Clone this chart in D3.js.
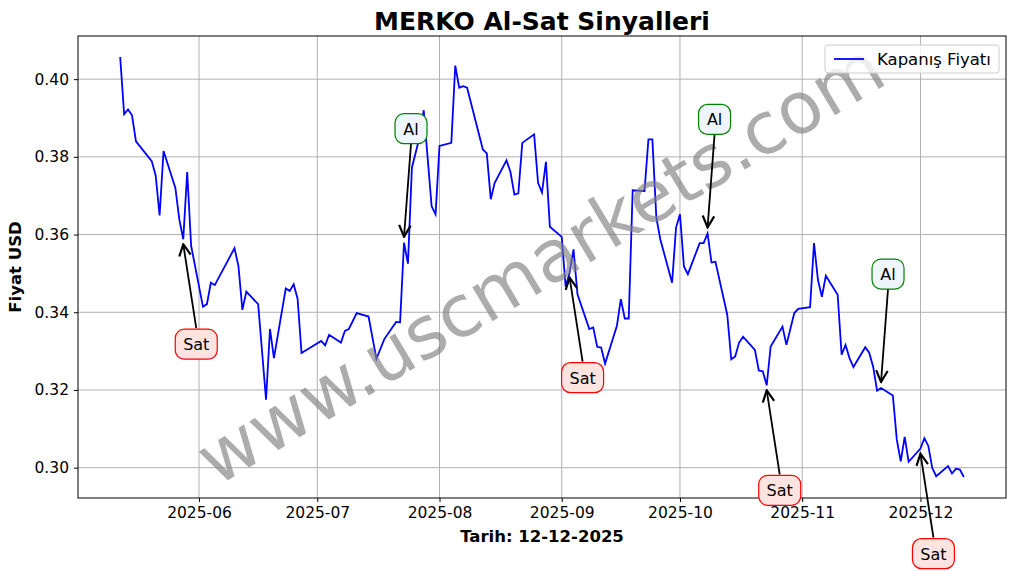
<!DOCTYPE html>
<html>
<head>
<meta charset="utf-8">
<script src="https://cdn.jsdelivr.net/npm/d3@7"></script>
<style>
  body { margin: 0; background: #fff; }
  text { font-family: "DejaVu Sans", sans-serif; }
</style>
</head>
<body>
<div id="chart"></div>
<script>
// closing prices
const dates = [
  "2025-05-12","2025-05-13","2025-05-14","2025-05-15","2025-05-16","2025-05-20","2025-05-21","2025-05-22","2025-05-23","2025-05-26",
  "2025-05-27","2025-05-28","2025-05-29","2025-05-30","2025-06-02","2025-06-03","2025-06-04","2025-06-05","2025-06-10","2025-06-11",
  "2025-06-12","2025-06-13","2025-06-16","2025-06-18","2025-06-19","2025-06-20","2025-06-23","2025-06-24","2025-06-25","2025-06-26",
  "2025-06-27","2025-07-02","2025-07-03","2025-07-04","2025-07-07","2025-07-08","2025-07-09","2025-07-11","2025-07-14","2025-07-16",
  "2025-07-18","2025-07-21","2025-07-22","2025-07-23","2025-07-24","2025-07-25","2025-07-27","2025-07-28","2025-07-30","2025-07-31",
  "2025-08-01","2025-08-04","2025-08-05","2025-08-06","2025-08-07","2025-08-08","2025-08-12","2025-08-13","2025-08-14","2025-08-15",
  "2025-08-18","2025-08-19","2025-08-20","2025-08-21","2025-08-22","2025-08-25","2025-08-26","2025-08-27","2025-08-28","2025-08-29",
  "2025-09-01","2025-09-02","2025-09-03","2025-09-04","2025-09-05","2025-09-08","2025-09-09","2025-09-10","2025-09-11","2025-09-12",
  "2025-09-15","2025-09-16","2025-09-17","2025-09-18","2025-09-19","2025-09-22","2025-09-23","2025-09-24","2025-09-25","2025-09-26",
  "2025-09-29","2025-09-30","2025-10-01","2025-10-02","2025-10-03","2025-10-06","2025-10-07","2025-10-08","2025-10-09","2025-10-10",
  "2025-10-13","2025-10-14","2025-10-15","2025-10-16","2025-10-17","2025-10-20","2025-10-21","2025-10-22","2025-10-23","2025-10-24",
  "2025-10-27","2025-10-28","2025-10-30","2025-10-31","2025-11-03","2025-11-04","2025-11-05","2025-11-06","2025-11-07","2025-11-10",
  "2025-11-11","2025-11-12","2025-11-13","2025-11-14","2025-11-17","2025-11-18","2025-11-19","2025-11-20","2025-11-21","2025-11-24",
  "2025-11-25","2025-11-26","2025-11-27","2025-11-28","2025-12-01","2025-12-02","2025-12-03","2025-12-04","2025-12-05","2025-12-08",
  "2025-12-09","2025-12-10","2025-12-11","2025-12-12"
];
const prices = [
  0.4057,0.3910,0.3922,0.3907,0.3840,0.3789,0.3752,0.3649,0.3815,0.3720,
  0.3639,0.3588,0.3761,0.3571,0.3414,0.3421,0.3476,0.3470,0.3565,0.3519,
  0.3406,0.3453,0.3421,0.3175,0.3357,0.3282,0.3461,0.3455,0.3472,0.3435,
  0.3295,0.3326,0.3315,0.3342,0.3322,0.3352,0.3357,0.3398,0.3389,0.3280,
  0.3331,0.3375,0.3374,0.3579,0.3525,0.3772,0.3853,0.3920,0.3673,0.3652,
  0.3828,0.3836,0.4035,0.3978,0.3982,0.3978,0.3819,0.3809,0.3691,0.3733,
  0.3791,0.3761,0.3703,0.3706,0.3836,0.3858,0.3733,0.3708,0.3787,0.3620,
  0.3594,0.3466,0.3502,0.3562,0.3446,0.3357,0.3361,0.3311,0.3309,0.3268,
  0.3365,0.3434,0.3384,0.3384,0.3714,0.3712,0.3845,0.3845,0.3644,0.3588,
  0.3476,0.3618,0.3652,0.3518,0.3498,0.3578,0.3578,0.3603,0.3528,0.3530,
  0.3393,0.3279,0.3286,0.3322,0.3337,0.3303,0.3250,0.3248,0.3212,0.3312,
  0.3363,0.3316,0.3398,0.3409,0.3413,0.3578,0.3483,0.3440,0.3494,0.3445,
  0.3291,0.3316,0.3282,0.3259,0.3310,0.3296,0.3260,0.3198,0.3205,0.3186,
  0.3072,0.3016,0.3079,0.3015,0.3049,0.3076,0.3056,0.2999,0.2978,0.3004,
  0.2985,0.2997,0.2995,0.2976
];
const signalDates = ["2025-05-28","2025-07-23","2025-09-03","2025-10-08","2025-10-23","2025-11-21","2025-12-01"];
const signalTypes = ["Sat","Al","Sat","Al","Sat","Al","Sat"];
const yTicks = [0.30, 0.32, 0.34, 0.36, 0.38, 0.40];
const xTicks = ["2025-06-01","2025-07-01","2025-08-01","2025-09-01","2025-10-01","2025-11-01","2025-12-01"];

const W = 1017, H = 571;
const m = { left: 78, right: 1006, top: 36, bottom: 498 };
const parse = d3.utcParse("%Y-%m-%d");
const data = dates.map((d, i) => ({ date: parse(d), value: prices[i] }));

const [x0, x1] = d3.extent(data, d => d.date);
const xPad = (x1 - x0) * 0.05;
const x = d3.scaleUtc().domain([new Date(+x0 - xPad), new Date(+x1 + xPad)]).range([m.left, m.right]);
const [y0, y1] = d3.extent(prices);
const yPad = (y1 - y0) * 0.05;
const y = d3.scaleLinear().domain([y0 - yPad, y1 + yPad]).range([m.bottom, m.top]);

const svg = d3.select("#chart").append("svg").attr("width", W).attr("height", H);

// grid
svg.append("g").selectAll("line").data(xTicks).enter().append("line")
  .attr("x1", d => x(parse(d))).attr("x2", d => x(parse(d)))
  .attr("y1", m.top).attr("y2", m.bottom)
  .attr("stroke", "#b0b0b0").attr("stroke-width", 1);
svg.append("g").selectAll("line").data(yTicks).enter().append("line")
  .attr("x1", m.left).attr("x2", m.right)
  .attr("y1", d => y(d)).attr("y2", d => y(d))
  .attr("stroke", "#b0b0b0").attr("stroke-width", 1);

// axes
const xAxis = svg.append("g").attr("transform", `translate(0,${m.bottom})`)
  .call(d3.axisBottom(x).tickValues(xTicks.map(parse)).tickFormat(d3.utcFormat("%Y-%m")).tickSize(4).tickPadding(5));
const yAxis = svg.append("g").attr("transform", `translate(${m.left},0)`)
  .call(d3.axisLeft(y).tickValues(yTicks).tickFormat(d3.format(".2f")).tickSize(4).tickPadding(5));
[xAxis, yAxis].forEach(a => {
  a.selectAll("text").attr("font-size", 15.5).attr("fill", "#000").style("font-family", "DejaVu Sans");
  a.selectAll(".domain").remove();
});
svg.append("rect").attr("x", m.left).attr("y", m.top)
  .attr("width", m.right - m.left).attr("height", m.bottom - m.top)
  .attr("fill", "none").attr("stroke", "#000").attr("stroke-width", 1);

// price line
svg.append("path").datum(data)
  .attr("d", d3.line().x(d => x(d.date)).y(d => y(d.value)))
  .attr("fill", "none").attr("stroke", "blue").attr("stroke-width", 1.8);

// watermark
svg.append("text").attr("x", 543).attr("y", 268)
  .attr("transform", "rotate(-31,543,268)")
  .attr("text-anchor", "middle").attr("dominant-baseline", "middle")
  .attr("font-size", 72).attr("fill", "#808080").attr("opacity", 0.65)
  .text("www.uscmarkets.com");

// signals
const defs = svg.append("defs");
defs.append("marker").attr("id", "arr").attr("viewBox", "0 0 10 10")
  .attr("refX", 9).attr("refY", 5).attr("markerWidth", 8).attr("markerHeight", 8)
  .attr("orient", "auto-start-reverse")
  .append("path").attr("d", "M1,1 L9,5 L1,9").attr("fill", "none").attr("stroke", "#000").attr("stroke-width", 1.5);

signalDates.forEach((sd, i) => {
  const dt = parse(sd);
  const pt = data.find(d => +d.date === +dt);
  const px = x(dt), py = y(pt.value);
  const buy = signalTypes[i] === "Al";
  const bx = px + (buy ? 7 : 13), by = py + (buy ? -114 : 105);
  const ey = py + (buy ? -6 : 5);
  const sy = by + (buy ? 15 : -16);
  svg.append("line").attr("x1", bx).attr("y1", sy)
    .attr("x2", px).attr("y2", ey)
    .attr("stroke", "#000").attr("stroke-width", 1.8).attr("marker-end", "url(#arr)");
  const w = buy ? 32 : 42, h = 30;
  svg.append("rect").attr("x", bx - w / 2).attr("y", by - h / 2)
    .attr("width", w).attr("height", h).attr("rx", 9)
    .attr("fill", buy ? "#eef5fd" : "#fde4e1")
    .attr("stroke", buy ? "green" : "red").attr("stroke-width", 1.2);
  svg.append("text").attr("x", bx).attr("y", by + 6)
    .attr("text-anchor", "middle").attr("font-size", 16).text(signalTypes[i]);
});

// legend
svg.append("rect").attr("x", 825).attr("y", 45).attr("width", 174).attr("height", 28)
  .attr("rx", 3).attr("fill", "#fff").attr("fill-opacity", 0.8).attr("stroke", "#ccc");
svg.append("line").attr("x1", 834).attr("x2", 864).attr("y1", 59).attr("y2", 59)
  .attr("stroke", "blue").attr("stroke-width", 1.8);
svg.append("text").attr("x", 877).attr("y", 65).attr("font-size", 16.5).text("Kapanış Fiyatı");

// titles
svg.append("text").attr("x", (m.left + m.right) / 2).attr("y", 30)
  .attr("text-anchor", "middle").attr("font-size", 25).attr("font-weight", "bold")
  .text("MERKO Al-Sat Sinyalleri");
svg.append("text").attr("x", (m.left + m.right) / 2).attr("y", 542)
  .attr("text-anchor", "middle").attr("font-size", 16.5).attr("font-weight", "bold")
  .text("Tarih: 12-12-2025");
svg.append("text").attr("transform", `translate(21,${(m.top + m.bottom) / 2}) rotate(-90)`)
  .attr("text-anchor", "middle").attr("font-size", 16.5).attr("font-weight", "bold")
  .text("Fiyat USD");
</script>
</body>
</html>
